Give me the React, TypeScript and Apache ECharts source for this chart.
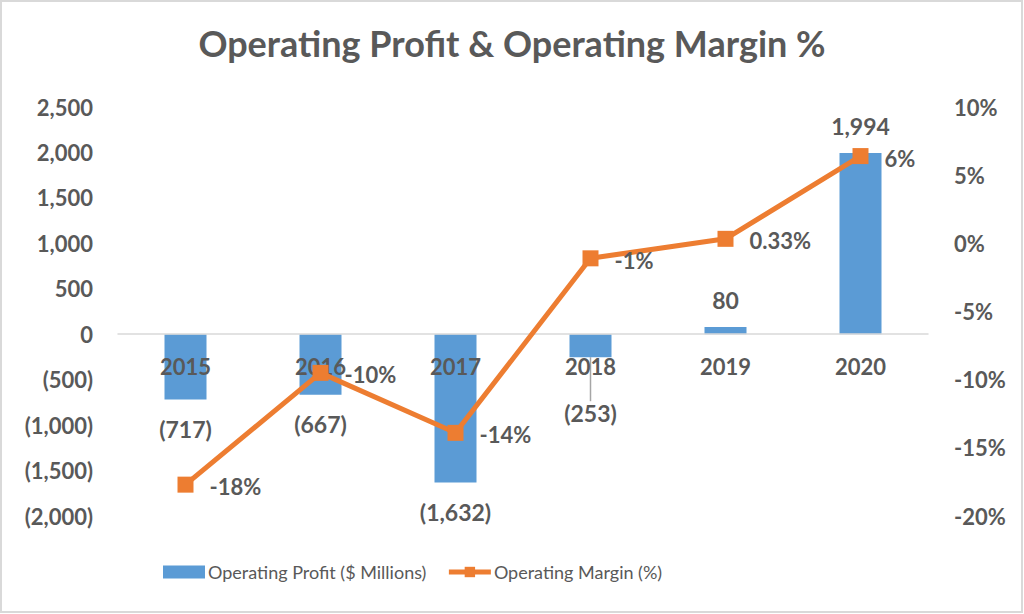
import React, { useEffect, useRef } from "react";
import * as echarts from "echarts";

const years = ["2015", "2016", "2017", "2018", "2019", "2020"];
const operatingProfit = [-717, -667, -1632, -253, 80, 1994];
const operatingMargin = [-17.7, -9.5, -13.9, -1.1, 0.33, 6.4];
const marginLabels = ["-18%", "-10%", "-14%", "-1%", "0.33%", "6%"];

const FONT = "Lato, 'Noto Sans', sans-serif";
const GREY = "#595959";

function fmtProfit(v: number): string {
  const s = Math.abs(v).toLocaleString("en-US");
  return v < 0 ? `(${s})` : s;
}

export default function App() {
  const ref = useRef<HTMLDivElement>(null);
  useEffect(() => {
    if (!ref.current) return;
    const chart = echarts.init(ref.current, undefined, { renderer: "svg" });
    chart.setOption({
      animation: false,
      backgroundColor: "#ffffff",
      textStyle: { fontFamily: FONT, color: GREY },
      title: {
        text: "Operating Profit & Operating Margin %",
        left: "center",
        top: 20,
        textStyle: { fontFamily: FONT, fontSize: 36, fontWeight: "bold", color: GREY },
      },
      graphic: [
        {
          type: "rect",
          shape: { x: 1, y: 1, width: 1021, height: 611 },
          style: { fill: "none", stroke: "#D9D9D9", lineWidth: 2 },
          silent: true,
        },
      ],
      legend: {
        top: 558,
        left: 158,
        itemGap: 20,
        itemWidth: 42,
        itemHeight: 13,
        textStyle: { fontFamily: FONT, fontSize: 18, color: GREY, padding: [0, 0, 0, -2] },
        data: [
          { name: "Operating Profit ($ Millions)", icon: "rect" },
          { name: "Operating Margin (%)", lineStyle: { width: 5 } },
        ],
      },
      grid: { left: 118, right: 96, top: 107, height: 409 },
      xAxis: {
        type: "category",
        data: years,
        z: 2,
        axisLine: { onZero: true, lineStyle: { color: "#D9D9D9", width: 1.5 } },
        axisTick: { show: false },
        axisLabel: { margin: -161, fontFamily: FONT, fontSize: 22, fontWeight: "bold", color: GREY },
      },
      yAxis: [
        {
          type: "value",
          min: -2000,
          max: 2500,
          interval: 500,
          splitLine: { show: false },
          axisLine: { show: false },
          axisTick: { show: false },
          axisLabel: {
            margin: 25,
            fontFamily: FONT,
            fontSize: 22,
            fontWeight: "bold",
            color: GREY,
            formatter: (v: number) => fmtProfit(v),
          },
        },
        {
          type: "value",
          min: -20,
          max: 10,
          interval: 5,
          splitLine: { show: false },
          axisLine: { show: false },
          axisTick: { show: false },
          axisLabel: {
            margin: 26,
            fontFamily: FONT,
            fontSize: 22,
            fontWeight: "bold",
            color: GREY,
            formatter: (v: number) => `${v}%`,
          },
        },
      ],
      series: [
        {
          name: "Operating Profit ($ Millions)",
          type: "bar",
          yAxisIndex: 0,
          barWidth: 42,
          itemStyle: { color: "#5B9BD5" },
          z: 1,
          data: operatingProfit.map((v, i) => ({
            value: v,
            label: { position: v < 0 ? "bottom" : "top", distance: v < 0 ? 18 : 15 },
            labelLine: { show: i === 3 },
          })),
          label: {
            show: true,
            fontFamily: FONT,
            fontSize: 23,
            fontWeight: "bold",
            color: GREY,
            formatter: (p: any) => fmtProfit(p.value),
          },
          labelLayout: (p: any) => (p.dataIndex === 3 ? { dy: 26 } : {}),
          labelLine: { show: false, lineStyle: { color: "#A6A6A6", width: 1.5 } },
        },
        {
          name: "Operating Margin (%)",
          type: "line",
          yAxisIndex: 1,
          symbol: "rect",
          symbolSize: 16,
          z: 3,
          lineStyle: { color: "#ED7D31", width: 5 },
          itemStyle: { color: "#ED7D31" },
          data: operatingMargin,
          label: {
            show: true,
            position: "right",
            distance: 16,
            offset: [0, 2],
            fontFamily: FONT,
            fontSize: 22,
            fontWeight: "bold",
            color: GREY,
            formatter: (p: any) => marginLabels[p.dataIndex],
          },
        },
      ],
    });
    return () => chart.dispose();
  }, []);
  return (
    <div
      ref={ref}
      style={{ position: "fixed", left: 0, top: 0, width: 1024, height: 614 }}
    />
  );
}
